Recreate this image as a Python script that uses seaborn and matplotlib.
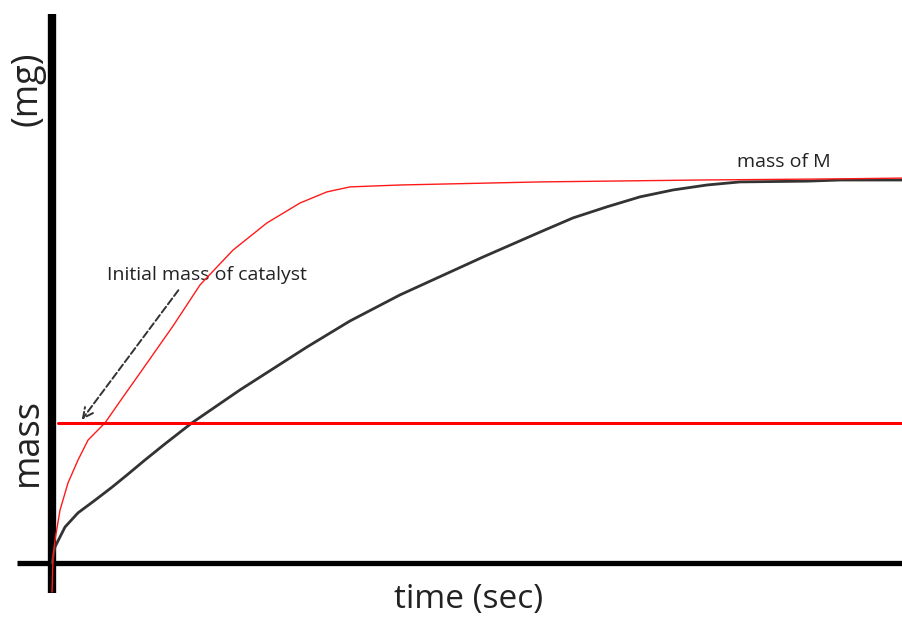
import matplotlib
matplotlib.use("Agg")
import matplotlib.pyplot as plt
import seaborn as sns
import pandas as pd

sns.set_theme(style="white")
plt.rcParams['font.family'] = ['Open Sans', 'DejaVu Sans']

# Data (time in sec, mass in mg, arbitrary scale)
red_time = [0.0, 0.012, 0.035, 0.094, 0.188, 0.306, 0.424, 0.624, 0.812, 1.035, 1.424, 1.741,
            2.129, 2.529, 2.918, 3.235, 3.506, 4.094, 5.741, 7.624, 9.271, 10.0]
red_mass = [-0.76, 0.16, 0.60, 1.38, 2.09, 2.69, 3.21, 3.66, 4.26, 4.96, 6.19, 7.26,
            8.17, 8.88, 9.40, 9.69, 9.82, 9.87, 9.95, 10.0, 10.03, 10.05]

black_time = [0.0, 0.035, 0.153, 0.306, 0.506, 0.706, 0.894, 1.094, 1.329, 1.647, 2.212, 3.0,
              3.506, 4.094, 5.071, 5.741, 6.129, 6.529, 6.918, 7.306, 7.706, 8.094, 8.882, 9.271, 10.0]
black_mass = [0.0, 0.42, 0.94, 1.31, 1.64, 1.98, 2.32, 2.69, 3.11, 3.66, 4.52, 5.64,
              6.32, 7.00, 7.99, 8.64, 9.01, 9.30, 9.56, 9.74, 9.87, 9.95, 9.97, 10.0, 10.0]

catalyst_time = [0.07, 10.0]
catalyst_mass = [3.66, 3.66]

label_initial = "Initial mass of catalyst"
label_M = "mass of M"
x_label = "time (sec)"
y_label_a = "mass"
y_label_b = "(mg)"

red_df = pd.DataFrame({"time": red_time, "mass": red_mass})
black_df = pd.DataFrame({"time": black_time, "mass": black_mass})
cat_df = pd.DataFrame({"time": catalyst_time, "mass": catalyst_mass})

fig = plt.figure(figsize=(9.02, 6.18), dpi=100)
ax = fig.add_axes([0, 0, 1, 1])
ax.set_xlim(-0.612, 10.0)
ax.set_ylim(-1.436, 14.70)
ax.axis("off")

# axes lines
ax.plot([0, 0], [-0.78, 14.33], color="black", lw=6.0, solid_capstyle="butt", zorder=3)
ax.plot([-0.41, 10.0], [0.0, 0.0], color="black", lw=3.8, solid_capstyle="butt", zorder=3)

sns.lineplot(data=black_df, x="time", y="mass", sort=False, estimator=None,
             color="#333333", lw=2.0, ax=ax, zorder=4)
sns.lineplot(data=red_df, x="time", y="mass", sort=False, estimator=None,
             color="#ff1a1a", lw=1.0, ax=ax, zorder=5)
sns.lineplot(data=cat_df, x="time", y="mass", sort=False, estimator=None,
             color="#ff0000", lw=2.2, ax=ax, zorder=5)

ax.annotate("", xy=(0.33, 3.68), xytext=(1.506, 7.18),
            arrowprops=dict(arrowstyle="->", linestyle="--", color="#333333", lw=1.4,
                            mutation_scale=18), zorder=6)

ax.text(0.647, 7.52, label_initial, fontsize=14, color="#222222", ha="left", va="center")
ax.text(8.06, 10.47, label_M, fontsize=14, color="#222222", ha="left", va="center")
ax.text(4.906, -0.966, x_label, fontsize=24, color="#222222", ha="center", va="center")
ax.text(-0.288, 3.16, y_label_a, fontsize=26, color="#222222", ha="center", va="center", rotation=90)
ax.text(-0.288, 12.39, y_label_b, fontsize=26, color="#222222", ha="center", va="center", rotation=90)

fig.savefig("out.png", dpi=100)
